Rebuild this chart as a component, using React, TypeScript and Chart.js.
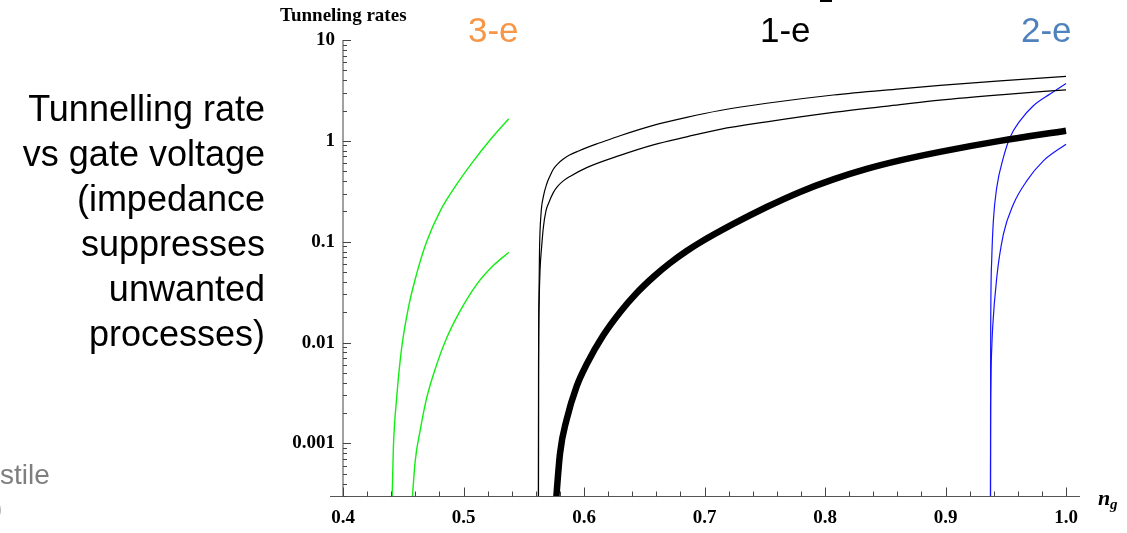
import React, { useEffect, useRef } from "react";
import { Chart, registerables } from "chart.js";

Chart.register(...registerables);

// ---- axis ticks ----
const xTickValues = [0.4, 0.5, 0.6, 0.7, 0.8, 0.9, 1.0];
const xTickLabels = ["0.4", "0.5", "0.6", "0.7", "0.8", "0.9", "1.0"];
const yTickValues = [0.001, 0.01, 0.1, 1, 10];
const yTickLabels = ["0.001", "0.01", "0.1", "1", "10"];

// ---- 1-e (upper thin black) ----
const oneUpperX = [0.5621, 0.56224, 0.56266, 0.56307, 0.56432, 0.56622, 0.56905, 0.57178, 0.57452, 0.57842, 0.58282, 0.58838, 0.59502, 0.60224, 0.61328, 0.62988, 0.65751, 0.68523, 0.71286, 0.75162, 0.80689, 0.86224, 0.89544, 0.94523, 1.0];
const oneUpperY = [1e-5, 0.00414, 0.0303, 0.0809, 0.188, 0.278, 0.374, 0.449, 0.523, 0.595, 0.661, 0.728, 0.79, 0.858, 0.957, 1.125, 1.425, 1.712, 2.0, 2.36, 2.85, 3.28, 3.55, 3.94, 4.35];

// ---- 1-e (lower thin black) ----
const oneLowerX = [0.5621, 0.56232, 0.56282, 0.56349, 0.5649, 0.56622, 0.56846, 0.57037, 0.57452, 0.57842, 0.58282, 0.58838, 0.60224, 0.62988, 0.65751, 0.68523, 0.71286, 0.75162, 0.80689, 0.86224, 0.89544, 0.94523, 1.0];
const oneLowerY = [1e-5, 0.00414, 0.0258, 0.0513, 0.0907, 0.137, 0.203, 0.237, 0.307, 0.357, 0.401, 0.444, 0.543, 0.718, 0.913, 1.096, 1.301, 1.544, 1.915, 2.288, 2.536, 2.862, 3.21];

// ---- 1-e (thick black) ----
const oneThickX = [0.5752, 0.5801, 0.5856, 0.5939, 0.6022, 0.616, 0.6299, 0.6437, 0.6575, 0.6714, 0.6852, 0.6963, 0.7239, 0.7516, 0.7793, 0.8069, 0.8346, 0.8622, 0.8954, 0.9452, 1.0];
const oneThickY = [1.5e-4, 7.97e-4, 1.73e-3, 3.69e-3, 6.1e-3, 0.0118, 0.02, 0.031, 0.0447, 0.0615, 0.0809, 0.0982, 0.15, 0.221, 0.312, 0.415, 0.527, 0.64, 0.778, 1.0, 1.26];

// ---- 3-e (green) ----
const threeUpperX = [0.44, 0.4418, 0.4445, 0.4487, 0.4542, 0.4611, 0.4694, 0.4805, 0.4943, 0.5082, 0.522, 0.5372];
const threeUpperY = [1.2e-4, 9.0e-4, 2.8e-3, 8.9e-3, 0.022, 0.048, 0.1, 0.2, 0.37, 0.63, 1.02, 1.64];
const threeLowerX = [0.456, 0.4598, 0.4639, 0.4694, 0.4777, 0.486, 0.4971, 0.511, 0.5247, 0.5372];
const threeLowerY = [1.5e-4, 6.5e-4, 1.32e-3, 2.82e-3, 6.05e-3, 0.0111, 0.0205, 0.0378, 0.058, 0.0778];

// ---- 2-e (blue) ----
const twoUpperX = [0.9372, 0.9374, 0.9375, 0.9383, 0.9397, 0.9425, 0.948, 0.9535, 0.9618, 0.9729, 0.9867, 1.0];
const twoUpperY = [1e-5, 0.004, 0.014, 0.064, 0.161, 0.344, 0.682, 1.08, 1.58, 2.23, 2.91, 3.71];
const twoLowerX = [0.9372, 0.9374, 0.9377, 0.9384, 0.9391, 0.9425, 0.948, 0.9563, 0.9674, 0.9812, 1.0];
const twoLowerY = [1e-5, 0.001, 0.004, 0.009, 0.014, 0.044, 0.118, 0.235, 0.401, 0.633, 0.927];

const X_MIN = 0.4;
const X_MAX = 1.0116;
const Y_MIN = 2.98e-4;
const Y_MAX = 10;

const pts = (xs: number[], ys: number[]) => xs.map((x, i) => ({ x, y: ys[i] }));

const axesPlugin = {
  id: "mmaAxes",
  afterDatasetsDraw(chart: any) {
    const { ctx, chartArea, scales } = chart;
    const xs = scales.x;
    const ys = scales.y;
    const left = chartArea.left;
    const bottom = chartArea.bottom;
    ctx.save();
    ctx.strokeStyle = "#555555";
    ctx.lineWidth = 1.1;
    ctx.beginPath();
    ctx.moveTo(left, chartArea.top);
    ctx.lineTo(left, bottom);
    ctx.stroke();
    ctx.beginPath();
    ctx.moveTo(left - 13, bottom);
    ctx.lineTo(chartArea.right, bottom);
    ctx.stroke();
    ctx.strokeStyle = "#444444";
    ctx.lineWidth = 1;
    const dLo = Math.floor(Math.log10(ys.min));
    const dHi = Math.ceil(Math.log10(ys.max));
    for (let d = dLo; d <= dHi; d++) {
      for (let m = 1; m <= 9; m++) {
        const v = m * Math.pow(10, d);
        if (v < ys.min * 0.999 || v > ys.max * 1.001) continue;
        const py = Math.round(ys.getPixelForValue(v)) + 0.5;
        const len = m === 1 ? 8 : 4;
        ctx.beginPath();
        ctx.moveTo(left, py);
        ctx.lineTo(left + len, py);
        ctx.stroke();
      }
    }
    for (let i = 0; ; i++) {
      const v = xTickValues[0] + i * 0.02;
      if (v > xs.max + 1e-9) break;
      const px = Math.round(xs.getPixelForValue(v)) + 0.5;
      const len = i % 5 === 0 ? 9 : 5;
      ctx.beginPath();
      ctx.moveTo(px, bottom);
      ctx.lineTo(px, bottom - len);
      ctx.stroke();
    }
    ctx.restore();
  },
};

function ChartCanvas() {
  const ref = useRef<HTMLCanvasElement | null>(null);
  useEffect(() => {
    if (!ref.current) return;
    const common = {
      showLine: true,
      pointRadius: 0,
      pointHoverRadius: 0,
      cubicInterpolationMode: "monotone" as const,
      capBezierPoints: false,
      clip: 0,
      fill: false,
    };
    const chart = new Chart(ref.current, {
      type: "scatter",
      data: {
        datasets: [
          { ...common, label: "1-e upper", data: pts(oneUpperX, oneUpperY), borderColor: "#000000", borderWidth: 1.2 },
          { ...common, label: "1-e lower", data: pts(oneLowerX, oneLowerY), borderColor: "#000000", borderWidth: 1.2 },
          { ...common, label: "1-e thick", data: pts(oneThickX, oneThickY), borderColor: "#000000", borderWidth: 6.5 },
          { ...common, label: "3-e upper", data: pts(threeUpperX, threeUpperY), borderColor: "#11ee11", borderWidth: 1.4, borderCapStyle: "round" },
          { ...common, label: "3-e lower", data: pts(threeLowerX, threeLowerY), borderColor: "#11ee11", borderWidth: 1.4, borderCapStyle: "round" },
          { ...common, label: "2-e upper", data: pts(twoUpperX, twoUpperY), borderColor: "#1414ff", borderWidth: 1.2 },
          { ...common, label: "2-e lower", data: pts(twoLowerX, twoLowerY), borderColor: "#1414ff", borderWidth: 1.2 },
        ] as any,
      },
      options: {
        animation: false,
        responsive: false,
        maintainAspectRatio: false,
        devicePixelRatio: 1,
        layout: { padding: { left: 0, top: 40, right: 47, bottom: 0 } },
        plugins: { legend: { display: false }, tooltip: { enabled: false } },
        events: [],
        scales: {
          x: {
            type: "linear",
            min: X_MIN,
            max: X_MAX,
            grid: { display: false, drawTicks: false, tickLength: 0 },
            border: { display: false },
            afterBuildTicks: (axis: any) => {
              axis.ticks = xTickValues.map((v) => ({ value: v }));
            },
            afterFit: (axis: any) => {
              axis.height = 36.5;
            },
            ticks: {
              autoSkip: false,
              maxRotation: 0,
              padding: 10,
              color: "#000000",
              font: { family: "'Liberation Serif', 'Times New Roman', serif", weight: "bold", size: 19 },
              callback: (_v: any, i: number) => xTickLabels[i],
            },
          },
          y: {
            type: "logarithmic",
            min: Y_MIN,
            max: Y_MAX,
            grid: { display: false, drawTicks: false, tickLength: 0 },
            border: { display: false },
            afterBuildTicks: (axis: any) => {
              axis.ticks = yTickValues.map((v) => ({ value: v }));
            },
            afterFit: (axis: any) => {
              axis.width = 343;
            },
            ticks: {
              autoSkip: false,
              padding: 8,
              color: "#000000",
              font: { family: "'Liberation Serif', 'Times New Roman', serif", weight: "bold", size: 19 },
              callback: (_v: any, i: number) => yTickLabels[i],
            },
          },
        },
      } as any,
      plugins: [axesPlugin],
    });
    return () => chart.destroy();
  }, []);
  return <canvas ref={ref} width={1127} height={533} style={{ position: "absolute", left: 0, top: 0, width: 1127, height: 533 }} />;
}

const sans = "'Liberation Sans', Arial, Helvetica, sans-serif";
const serif = "'Liberation Serif', 'Times New Roman', serif";

export default function App() {
  const abs = (o: React.CSSProperties): React.CSSProperties => ({ position: "absolute", whiteSpace: "nowrap", lineHeight: 1, margin: 0, ...o });
  return (
    <div style={{ position: "fixed", left: 0, top: 0, width: 1127, height: 533, overflow: "hidden", background: "#ffffff" }}>
      <ChartCanvas />
      <div style={{ position: "absolute", left: 0, top: 86, width: 265, textAlign: "right", fontFamily: sans, fontSize: 36, lineHeight: "45px", color: "#000000" }}>
        <div>Tunnelling rate</div>
        <div>vs gate voltage</div>
        <div>(impedance</div>
        <div>suppresses</div>
        <div>unwanted</div>
        <div>processes)</div>
      </div>
      <span style={abs({ left: 0, top: 461, fontFamily: sans, fontSize: 28, color: "#7f7f7f" })}>stile</span>
      <span style={abs({ left: -7, top: 494, fontFamily: sans, fontSize: 28, color: "#7f7f7f" })}>)</span>
      <span style={abs({ left: 280, top: 4.6, fontFamily: serif, fontWeight: "bold", fontSize: 19, color: "#000000" })}>Tunneling rates</span>
      <span style={abs({ left: 468, top: 12.4, fontFamily: sans, fontSize: 35, color: "#f79646" })}>3-e</span>
      <span style={abs({ left: 760, top: 12.4, fontFamily: sans, fontSize: 35, color: "#000000" })}>1-e</span>
      <div style={{ position: "absolute", left: 820, top: 0, width: 12, height: 2, background: "#000000" }} />
      <span style={abs({ left: 1021, top: 12.4, fontFamily: sans, fontSize: 35, color: "#4f81bd" })}>2-e</span>
      <span style={abs({ left: 1098, top: 486.5, fontFamily: serif, fontStyle: "italic", fontWeight: "bold", fontSize: 22, color: "#000000" })}>n</span>
      <span style={abs({ left: 1110, top: 496.5, fontFamily: serif, fontStyle: "italic", fontWeight: "bold", fontSize: 15, color: "#000000" })}>g</span>
    </div>
  );
}
